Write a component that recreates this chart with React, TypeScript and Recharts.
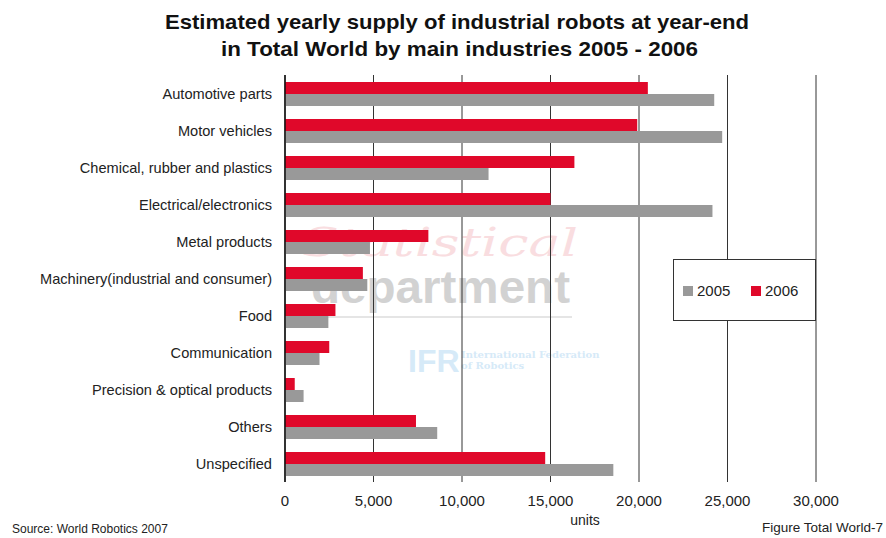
import React from 'react';
import { BarChart, Bar, XAxis, YAxis, CartesianGrid, Legend } from 'recharts';

const industries = [
  'Automotive parts',
  'Motor vehicles',
  'Chemical, rubber and plastics',
  'Electrical/electronics',
  'Metal products',
  'Machinery(industrial and consumer)',
  'Food',
  'Communication',
  'Precision & optical products',
  'Others',
  'Unspecified',
];
const supply2005 = [24250, 24700, 11500, 24150, 4800, 4650, 2450, 1950, 1050, 8600, 18550];
const supply2006 = [20500, 19900, 16350, 15000, 8100, 4400, 2850, 2500, 550, 7400, 14700];
const xTicks = [0, 5000, 10000, 15000, 20000, 25000, 30000];

const titleLines = [
  'Estimated yearly supply of industrial robots at year-end',
  'in Total World by main industries 2005 - 2006',
];

const data = industries.map((name, i) => ({
  name,
  y2005: supply2005[i],
  y2006: supply2006[i],
}));

const FONT = '"Liberation Sans", Arial, sans-serif';
const RED = '#E0082A';
const GRAY = '#999999';

const fmt = (v: number) => v.toLocaleString('en-US');

const LegendBox = (props: any) => {
  const items = [...(props.payload || [])].sort((a: any, b: any) =>
    String(a.value).localeCompare(String(b.value))
  );
  return (
    <div
      style={{
        width: 143,
        height: 62,
        boxSizing: 'border-box',
        border: '1px solid #333',
        background: '#fff',
        position: 'relative',
        fontFamily: FONT,
        fontSize: 15,
        color: '#222',
      }}
    >
      {items.map((it: any, i: number) => (
        <React.Fragment key={it.value}>
          <div
            style={{
              position: 'absolute',
              left: 9 + i * 68,
              top: 26,
              width: 10,
              height: 10,
              background: it.color,
            }}
          />
          <div
            style={{
              position: 'absolute',
              left: 23 + i * 68,
              top: 22,
              lineHeight: '17px',
            }}
          >
            {it.value}
          </div>
        </React.Fragment>
      ))}
    </div>
  );
};

export default function App() {
  return (
    <div style={{ position: 'absolute', left: 0, top: 0, width: 886, height: 538, background: '#fff', overflow: 'hidden' }}>
      <svg width={886} height={538} style={{ position: 'absolute', left: 0, top: 0 }}>
        {/* watermark */}
        <text x={302} y={256} fontFamily='"DejaVu Serif", serif' fontStyle="italic" fontSize={40} fill="#f9dde0" textLength={276} lengthAdjust="spacingAndGlyphs">
          Statistical
        </text>
        <text x={311} y={303} fontFamily={FONT} fontWeight="bold" fontSize={46} fill="#d2d2d2" textLength={259} lengthAdjust="spacingAndGlyphs">
          department
        </text>
        <line x1={312} x2={572} y1={317} y2={317} stroke="#dcdcdc" strokeWidth={1.5} />
        <text x={408} y={372} fontFamily={FONT} fontWeight="bold" fontSize={32} fill="#d6eaf8">
          IFR
        </text>
        <text x={461} y={358} fontFamily='"DejaVu Serif", serif' fontWeight="bold" fontSize={10} fill="#d6eaf8">
          International Federation
        </text>
        <text x={461} y={369} fontFamily='"DejaVu Serif", serif' fontWeight="bold" fontSize={10} fill="#d6eaf8">
          of Robotics
        </text>
        {/* titles and notes */}
        <text x={165} y={29} fontFamily={FONT} fontWeight="bold" fontSize={21} fill="#111" textLength={584} lengthAdjust="spacingAndGlyphs">
          {titleLines[0]}
        </text>
        <text x={221} y={56} fontFamily={FONT} fontWeight="bold" fontSize={21} fill="#111" textLength={477} lengthAdjust="spacingAndGlyphs">
          {titleLines[1]}
        </text>
        <text x={585} y={525} textAnchor="middle" fontFamily={FONT} fontSize={14} fill="#222">
          units
        </text>
        <text x={12} y={533} fontFamily={FONT} fontSize={12} fill="#222">
          Source: World Robotics 2007
        </text>
        <text x={762} y={532} fontFamily={FONT} fontSize={13.5} fill="#222">
          Figure Total World-7
        </text>
      </svg>
      <div style={{ position: 'absolute', left: 0, top: 0 }}>
        <BarChart
          width={886}
          height={538}
          data={data}
          layout="vertical"
          margin={{ top: 75, right: 70, bottom: 26, left: 0 }}
          barSize={12}
          barGap={0}
        >
          <CartesianGrid horizontal={false} vertical={true} stroke="#333" strokeWidth={1} />
          <XAxis
            type="number"
            domain={[0, 30000]}
            ticks={xTicks}
            tickFormatter={fmt}
            axisLine={false}
            tickLine={false}
            tickMargin={7}
            height={30}
            tick={{ fontSize: 15, fill: '#222', fontFamily: FONT }}
            interval={0}
          />
          <YAxis
            type="category"
            dataKey="name"
            width={285}
            axisLine={{ stroke: '#111', strokeWidth: 1.5 }}
            tickLine={false}
            tickMargin={7}
            tick={{ fontSize: 14.6, fill: '#222', fontFamily: FONT }}
            interval={0}
          />
          <Legend
            layout="horizontal"
            verticalAlign="middle"
            align="center"
            content={<LegendBox />}
            wrapperStyle={{ position: 'absolute', left: 673, top: 259, width: 143, height: 62 }}
          />
          <Bar dataKey="y2006" name="2006" fill={RED} isAnimationActive={false} />
          <Bar dataKey="y2005" name="2005" fill={GRAY} isAnimationActive={false} />
        </BarChart>
      </div>
    </div>
  );
}
